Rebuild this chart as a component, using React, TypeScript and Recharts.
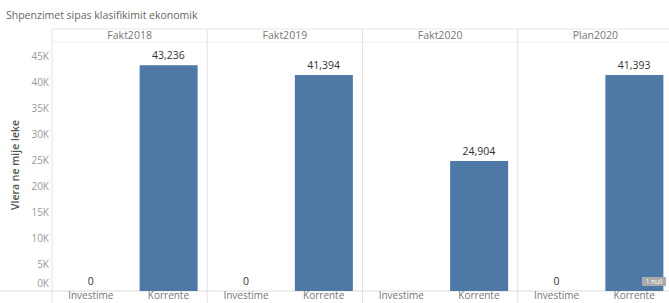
import { ComposedChart, Bar, Line, XAxis, YAxis, LabelList } from "recharts";

const groups = ["Fakt2018", "Fakt2019", "Fakt2020", "Plan2020"];
const types = ["Investime", "Korrente"];
const investime: (number | null)[] = [0, 0, null, 0];
const korrente = [43236, 41394, 24904, 41393];
const yTicks = [0, 5000, 10000, 15000, 20000, 25000, 30000, 35000, 40000, 45000];

const data = groups.flatMap((g, i) => [
  { key: g + "|" + types[0], group: g, type: types[0], value: investime[i] },
  { key: g + "|" + types[1], group: g, type: types[1], value: korrente[i] },
]);

const FONT = "'Open Sans', sans-serif";
const W = 673;
const H = 303;
const LEFT = 52;
const HEAD_TOP = 29;
const PLOT_TOP = 43;
const BASE = 291;
const panelW = (W - LEFT) / groups.length;

function GroupTick({ x, y, payload }: any) {
  return (
    <text x={x} y={y - 4} textAnchor="middle" fontSize={10.5} fill="#777" fontFamily={FONT}>
      {payload.value}
    </text>
  );
}

function TypeTick({ x, y, payload }: any) {
  return (
    <text x={x} y={y + 8} textAnchor="middle" fontSize={10} fill="#777" fontFamily={FONT}>
      {String(payload.value).split("|")[1]}
    </text>
  );
}

function ValueTick({ x, y, payload }: any) {
  const shift = payload.value === 0 ? -8 : 0;
  return (
    <text x={x - 3} y={y + shift} dy="0.35em" textAnchor="end" fontSize={10} fill="#999" fontFamily={FONT}>
      {payload.value / 1000 + "K"}
    </text>
  );
}

function ValueLabel({ x, y, value }: any) {
  if (value == null || x == null || y == null) return null;
  return (
    <text x={x} y={y - 6} textAnchor="middle" fontSize={10.5} fill="#333" fontFamily={FONT}>
      {Number(value).toLocaleString("en-US")}
    </text>
  );
}

export default function App() {
  return (
    <div
      style={{
        position: "absolute",
        left: 0,
        top: 0,
        width: 669,
        height: 303,
        overflow: "hidden",
        background: "#fff",
      }}
    >
      <div
        style={{
          position: "absolute",
          left: 6,
          top: 8,
          fontFamily: FONT,
          fontSize: 10.5,
          color: "#666",
          whiteSpace: "nowrap",
        }}
      >
        Shpenzimet sipas klasifikimit ekonomik
      </div>
      <svg width={W} height={H} style={{ position: "absolute", left: 0, top: 0 }}>
        <line x1={LEFT} x2={W} y1={HEAD_TOP} y2={HEAD_TOP} stroke="#e6e6e6" />
        <line x1={LEFT} x2={W} y1={PLOT_TOP - 1} y2={PLOT_TOP - 1} stroke="#eeeeee" />
        <line x1={0} x2={W} y1={BASE} y2={BASE} stroke="#dcdcdc" />
        {groups.map((g, i) => (
          <line
            key={g}
            x1={LEFT + i * panelW}
            x2={LEFT + i * panelW}
            y1={HEAD_TOP}
            y2={H}
            stroke="#e3e3e3"
          />
        ))}
        <text
          transform={`translate(19, 165) rotate(-90)`}
          textAnchor="middle"
          fontSize={10.5}
          fontWeight={600}
          fill="#555"
          fontFamily={FONT}
        >
          Vlera ne mije leke
        </text>
      </svg>
      <div style={{ position: "absolute", left: 0, top: 0 }}>
        <ComposedChart
          width={W}
          height={H}
          data={data}
          margin={{ top: HEAD_TOP, right: 0, bottom: 0, left: 0 }}
        >
          <XAxis
            xAxisId="top"
            dataKey="group"
            orientation="top"
            allowDuplicatedCategory={false}
            height={PLOT_TOP - HEAD_TOP}
            axisLine={false}
            tickLine={false}
            tickSize={0}
            tickMargin={0}
            tick={<GroupTick />}
            interval={0}
          />
          <XAxis
            dataKey="key"
            height={H - BASE}
            axisLine={false}
            tickLine={false}
            tickSize={0}
            tickMargin={0}
            tick={<TypeTick />}
            interval={0}
          />
          <YAxis
            width={LEFT}
            domain={[0, 47500]}
            ticks={yTicks}
            axisLine={false}
            tickLine={false}
            tickSize={0}
            tickMargin={0}
            tick={<ValueTick />}
            interval={0}
          />
          <Bar dataKey="value" fill="#4e79a7" barSize={58} isAnimationActive={false} />
          <Line
            dataKey="value"
            stroke="none"
            dot={false}
            activeDot={false}
            isAnimationActive={false}
          >
            <LabelList dataKey="value" content={<ValueLabel />} />
          </Line>
        </ComposedChart>
      </div>
      <div
        style={{
          position: "absolute",
          left: 642,
          top: 277,
          width: 24,
          height: 9,
          background: "#a9a9a9",
          color: "#fff",
          fontFamily: FONT,
          fontSize: 6.5,
          lineHeight: "9px",
          textAlign: "center",
        }}
      >
        1 null
      </div>
    </div>
  );
}
